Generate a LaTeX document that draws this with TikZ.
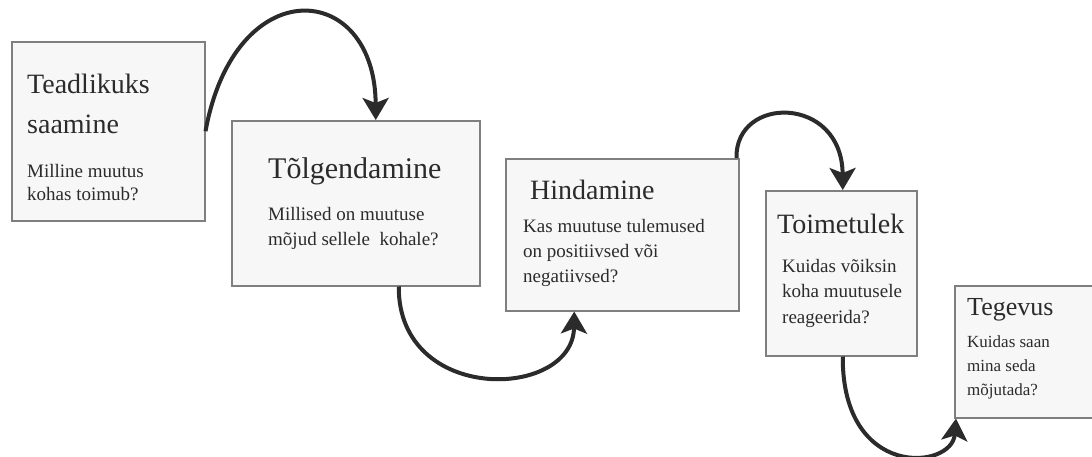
\documentclass[tikz,border=0pt]{standalone}
\usepackage{fontspec}
\setmainfont{Liberation Serif}
\usetikzlibrary{arrows.meta}
\definecolor{cardfill}{HTML}{F7F7F7}
\definecolor{cardline}{HTML}{7F7F7F}
\definecolor{ink}{HTML}{2B2B2B}

\begin{document}
\begin{tikzpicture}[x=1pt, y=-1pt,
	card/.style={draw=cardline, fill=cardfill, line width=1.5pt, anchor=north west, inner sep=0pt},
	head/.style={anchor=base west, inner sep=0pt, text=ink, align=left},
	ask/.style={anchor=base west, inner sep=0pt, text=ink, align=left},
	flow/.style={draw=ink, line width=4pt, -{Stealth[length=22pt, width=26pt, inset=5pt]}}]
	\useasboundingbox (0,0) rectangle (1092,456);
	\node[card, minimum width=193pt, minimum height=179pt] (b1) at (11,41) {};
	\node[card, minimum width=248pt, minimum height=165pt] (b2) at (231,120) {};
	\node[card, minimum width=233pt, minimum height=152pt] (b3) at (505,158) {};
	\node[card, minimum width=151pt, minimum height=165pt] (b4) at (765,190) {};
	\node[card, minimum width=140pt, minimum height=132pt] (b5) at (954,285) {};
	% multi-line nodes sit on the baseline of their last line
	\node[head, font=\fontsize{28}{40}\selectfont] (t1) at (27,133) {Teadlikuks\\saamine};
	\node[ask, font=\fontsize{19}{23}\selectfont] (q1) at (27,200) {Milline muutus\\kohas toimub?};
	\node[head, font=\fontsize{30}{36}\selectfont] (t2) at (268,178) {Tõlgendamine};
	\node[ask, font=\fontsize{19}{25}\selectfont] (q2) at (268,245) {Millised on muutuse\\mõjud sellele~ kohale?};
	\node[head, font=\fontsize{28}{34}\selectfont] (t3) at (530,199) {Hindamine};
	\node[ask, font=\fontsize{19}{25}\selectfont] (q3) at (523,282) {Kas muutuse tulemused\\on positiivsed või\\negatiivsed?};
	\node[head, font=\fontsize{28}{34}\selectfont] (t4) at (777,233) {Toimetulek};
	\node[ask, font=\fontsize{19}{25.5}\selectfont] (q4) at (782,323) {Kuidas võiksin\\koha muutusele\\reageerida?};
	\node[head, font=\fontsize{26}{32}\selectfont] (t5) at (967,315) {Tegevus};
	\node[ask, font=\fontsize{17}{24}\selectfont] (q5) at (967,395) {Kuidas saan\\mina seda\\mõjutada?};
	\draw[flow] (b1.east) .. controls (235,-30) and (375,-20) .. ([xshift=20pt]b2.north);
	\draw[flow] ([xshift=43pt]b2.south) .. controls (398,405) and (573,400) .. ([xshift=-48pt]b3.south);
	\draw[flow] ([xshift=-3pt]b3.north east) .. controls (735,95) and (842,95) .. ([xshift=1.5pt]b4.north);
	\draw[flow] ([xshift=1.5pt]b4.south) .. controls (842,480) and (952,470) .. ([xshift=2pt]b5.south west);
\end{tikzpicture}
\end{document}
